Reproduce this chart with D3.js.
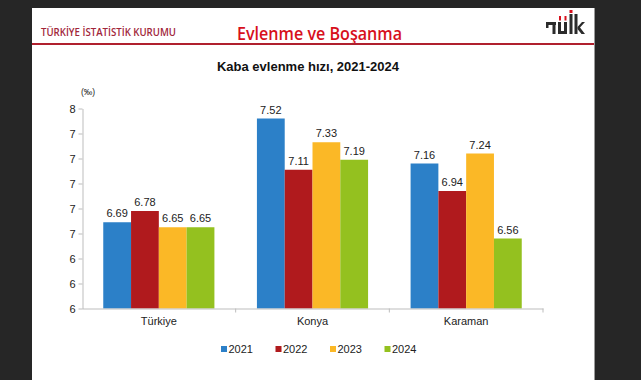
<!DOCTYPE html>
<html>
<head>
<meta charset="utf-8">
<script src="https://cdn.jsdelivr.net/npm/d3@7"></script>
<style>
  html, body { margin: 0; padding: 0; background: #262626; }
  svg { display: block; }
</style>
</head>
<body>
<svg id="chart" width="641" height="380"></svg>
<script>
const categories = ["Türkiye", "Konya", "Karaman"];
const years = ["2021", "2022", "2023", "2024"];
const values2021 = [6.69, 7.52, 7.16];
const values2022 = [6.78, 7.11, 6.94];
const values2023 = [6.65, 7.33, 7.24];
const values2024 = [6.65, 7.19, 6.56];
const yTicks = [6.0, 6.2, 6.4, 6.6, 6.8, 7.0, 7.2, 7.4, 7.6];
const colors = ["#2c80c8", "#b01a1d", "#fbb826", "#94c11f"];

const series = [values2021, values2022, values2023, values2024];

const svg = d3.select("#chart");
const font = "'Liberation Sans', Arial, sans-serif";

// background panel
svg.append("rect").attr("x", 0).attr("y", 0).attr("width", 641).attr("height", 380).attr("fill", "#262626");
svg.append("rect").attr("x", 32).attr("y", 8).attr("width", 562).attr("height", 372).attr("fill", "#ffffff");
svg.append("line").attr("x1", 594.5).attr("x2", 594.5).attr("y1", 8).attr("y2", 380).attr("stroke", "#9a9a9a").attr("stroke-width", 1);

// header
svg.append("text").attr("x", 41).attr("y", 36).attr("font-family", "'Open Sans', sans-serif")
  .attr("font-size", 10).attr("font-weight", 600).attr("fill", "#a1263a")
  .attr("textLength", 135).attr("lengthAdjust", "spacingAndGlyphs")
  .text("TÜRKİYE İSTATİSTİK KURUMU");
svg.append("text").attr("x", 237).attr("y", 40).attr("font-family", "'Open Sans', sans-serif")
  .attr("font-size", 18).attr("font-weight", 600).attr("fill", "#d7101c")
  .attr("textLength", 165).attr("lengthAdjust", "spacingAndGlyphs")
  .text("Evlenme ve Boşanma");
svg.append("rect").attr("x", 32).attr("y", 43).attr("width", 562).attr("height", 2).attr("fill", "#b0202e");

// logo (drawn shapes)
const logo = svg.append("g").attr("fill", "#2b2b2b");
logo.append("rect").attr("x", 546).attr("y", 22).attr("width", 10).attr("height", 3);
logo.append("rect").attr("x", 546).attr("y", 22).attr("width", 2.5).attr("height", 6);
logo.append("rect").attr("x", 552.5).attr("y", 22).attr("width", 3).attr("height", 12);
logo.append("path").attr("d", "M558,22 h3 v9 h3 v-9 h3 v12 h-9 z");
logo.append("rect").attr("x", 569.5).attr("y", 14).attr("width", 3).attr("height", 20);
logo.append("rect").attr("x", 574.5).attr("y", 14).attr("width", 3).attr("height", 20);
logo.append("path").attr("d", "M577.5,27 L582,22 L585,22 L580,27.5 L585,34 L581.5,34 L577.5,29 z");
svg.append("rect").attr("x", 559).attr("y", 16).attr("width", 2).attr("height", 4.5).attr("fill", "#d7101c");
svg.append("rect").attr("x", 564.5).attr("y", 16).attr("width", 2).attr("height", 4.5).attr("fill", "#d7101c");
svg.append("rect").attr("x", 569.5).attr("y", 10).attr("width", 3).attr("height", 3).attr("fill", "#d7101c");

// title
svg.append("text").attr("x", 308).attr("y", 71).attr("text-anchor", "middle")
  .attr("font-family", font).attr("font-size", 13).attr("font-weight", "bold").attr("fill", "#111")
  .text("Kaba evlenme hızı, 2021-2024");

// scales
const x0 = d3.scaleBand().domain(categories).range([82, 543]).paddingInner(0).paddingOuter(0);
const x1 = d3.scaleBand().domain(years).range([0, x0.bandwidth()]).paddingInner(0).paddingOuter(0.765);
const y = d3.scaleLinear().domain([6.0, 7.6]).range([308.5, 108.5]);

// y axis
const yAxis = svg.append("g").attr("transform", "translate(82.5,0)")
  .call(d3.axisLeft(y).tickValues(yTicks).tickFormat(d3.format(".0f")).tickSize(4).tickSizeOuter(0));
yAxis.select(".domain").attr("stroke", "#bdbdbd");
yAxis.selectAll(".tick line").attr("stroke", "#bdbdbd");
yAxis.selectAll(".tick text").attr("font-family", font).attr("font-size", 11).attr("fill", "#222").attr("x", -7);

svg.append("text").attr("x", 88).attr("y", 95).attr("text-anchor", "middle")
  .attr("font-family", font).attr("font-size", 8.5).attr("fill", "#222").text("(‰)");

// bars
const groups = svg.append("g").selectAll("g").data(categories).join("g")
  .attr("transform", d => `translate(${x0(d)},0)`);

groups.each(function(cat, ci) {
  const g = d3.select(this);
  years.forEach((yr, si) => {
    const v = series[si][ci];
    g.append("rect").attr("x", x1(yr)).attr("y", y(v))
      .attr("width", x1.bandwidth()).attr("height", y(6.0) - y(v))
      .attr("fill", colors[si]);
    g.append("text").attr("x", x1(yr) + x1.bandwidth() / 2).attr("y", y(v) - 5)
      .attr("text-anchor", "middle").attr("font-family", font).attr("font-size", 11)
      .attr("fill", "#222").text(d3.format(".2f")(v));
  });
});

// x axis
const xAxis = svg.append("g").attr("transform", "translate(0,308.5)")
  .call(d3.axisBottom(x0).tickSize(0).tickSizeOuter(0).tickPadding(9));
xAxis.select(".domain").attr("stroke", "#bdbdbd");
xAxis.selectAll(".tick text").attr("font-family", font).attr("font-size", 11).attr("fill", "#222");
xAxis.selectAll(".boundary").data(categories).join("line").attr("class", "boundary")
  .attr("x1", d => x0(d) + x0.bandwidth()).attr("x2", d => x0(d) + x0.bandwidth())
  .attr("y1", 0).attr("y2", 4).attr("stroke", "#bdbdbd");

// legend
const legend = svg.append("g").selectAll("g").data(years).join("g")
  .attr("transform", (d, i) => `translate(${221 + i * 54.5},346)`);
legend.append("rect").attr("width", 6).attr("height", 6).attr("fill", (d, i) => colors[i]);
legend.append("text").attr("x", 7.5).attr("y", 7).attr("font-family", font).attr("font-size", 11)
  .attr("fill", "#222").text(d => d);
</script>
</body>
</html>
